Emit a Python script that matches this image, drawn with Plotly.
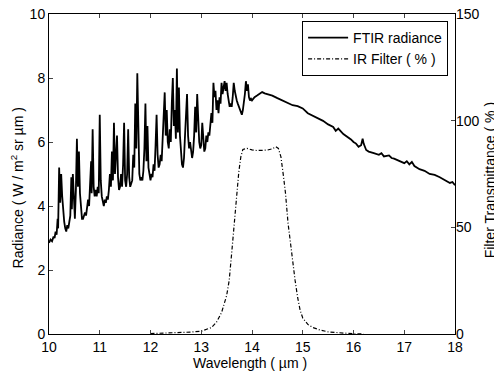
import plotly.graph_objects as go

wavelength = [
    10.00, 10.03, 10.06, 10.09, 10.11, 10.13, 10.15, 10.17, 10.18, 10.20, 10.22, 10.24, 10.26, 10.28, 10.30,
    10.32, 10.34, 10.36, 10.38, 10.40, 10.42, 10.44, 10.45, 10.47, 10.49, 10.51, 10.53, 10.55, 10.57, 10.59,
    10.61, 10.63, 10.65, 10.67, 10.69, 10.71, 10.73, 10.75, 10.77, 10.79, 10.81, 10.83, 10.84, 10.86, 10.88,
    10.90, 10.92, 10.94, 10.96, 10.98, 11.00, 11.02, 11.04, 11.06, 11.08, 11.10, 11.12, 11.14, 11.16, 11.18,
    11.20, 11.22, 11.24, 11.26, 11.28, 11.30, 11.32, 11.34, 11.36, 11.38, 11.40, 11.42, 11.44, 11.46, 11.48,
    11.50, 11.52, 11.54, 11.56, 11.58, 11.60, 11.62, 11.64, 11.66, 11.68, 11.70, 11.72, 11.74, 11.76, 11.78,
    11.80, 11.82, 11.84, 11.86, 11.88, 11.90, 11.92, 11.94, 11.96, 11.98, 12.00, 12.02, 12.04, 12.06, 12.08,
    12.10, 12.12, 12.14, 12.16, 12.18, 12.20, 12.22, 12.24, 12.26, 12.28, 12.30, 12.32, 12.34, 12.36, 12.38,
    12.40, 12.42, 12.44, 12.46, 12.48, 12.50, 12.52, 12.54, 12.56, 12.58, 12.60, 12.62, 12.64, 12.66, 12.68,
    12.70, 12.72, 12.74, 12.76, 12.78, 12.80, 12.82, 12.84, 12.86, 12.88, 12.90, 12.92, 12.94, 12.96, 12.98,
    13.00, 13.02, 13.04, 13.06, 13.08, 13.10, 13.12, 13.14, 13.16, 13.18, 13.20, 13.22, 13.24, 13.26, 13.28,
    13.30, 13.32, 13.34, 13.36, 13.38, 13.40, 13.42, 13.44, 13.46, 13.48, 13.50, 13.52, 13.54, 13.56, 13.58,
    13.60, 13.62, 13.64, 13.66, 13.68, 13.70, 13.72, 13.74, 13.76, 13.78, 13.80, 13.82, 13.84, 13.86, 13.88,
    13.90, 13.92, 13.94, 13.96, 13.98, 14.00, 14.05, 14.10, 14.15, 14.20, 14.25, 14.30, 14.40, 14.50, 14.60,
    14.70, 14.80, 14.90, 15.00, 15.10, 15.20, 15.30, 15.40, 15.50, 15.60, 15.65, 15.70, 15.80, 15.90, 15.95,
    16.00, 16.05, 16.10, 16.15, 16.18, 16.20, 16.25, 16.30, 16.40, 16.50, 16.55, 16.60, 16.70, 16.75, 16.80,
    16.90, 17.00, 17.05, 17.10, 17.15, 17.20, 17.30, 17.40, 17.50, 17.60, 17.70, 17.80, 17.90, 17.95, 18.00,
]

radiance = [
    2.85, 2.95, 2.90, 3.05, 3.00, 3.20, 3.10, 3.60, 3.30, 5.20, 4.10, 5.00, 4.30, 3.70, 3.50,
    3.30, 3.20, 3.40, 3.30, 3.50, 3.70, 4.90, 3.90, 5.00, 4.00, 3.60, 4.50, 6.10, 4.60, 5.70,
    4.40, 3.80, 3.60, 3.60, 3.70, 3.80, 3.70, 3.90, 4.20, 4.00, 4.60, 5.40, 4.40, 6.40, 4.60,
    4.30, 4.50, 4.30, 4.60, 4.40, 6.85, 4.80, 4.30, 4.10, 4.00, 4.20, 4.10, 4.30, 4.20, 4.50,
    5.00, 4.60, 5.70, 4.80, 6.60, 5.00, 5.60, 6.20, 4.90, 4.50, 4.60, 5.00, 4.60, 5.30, 6.60,
    4.80, 4.60, 5.00, 6.40, 4.90, 4.60, 4.70, 4.80, 5.60, 5.20, 7.20, 5.80, 8.15, 6.00, 5.00,
    4.80, 4.90, 4.80, 5.10, 5.80, 7.20, 5.40, 6.50, 5.20, 4.90, 4.80, 5.00, 4.90, 5.30, 5.10,
    5.90, 6.85, 5.60, 5.20, 5.30, 5.60, 5.40, 6.00, 6.50, 7.55, 6.20, 7.00, 6.00, 5.80, 6.40,
    6.00, 7.20, 8.00, 6.50, 7.00, 6.10, 8.30, 6.30, 7.70, 6.20, 5.50, 5.30, 5.20, 5.50, 6.20,
    6.80, 7.50, 6.20, 5.80, 6.00, 5.70, 5.50, 5.70, 6.20, 7.10, 6.30, 7.50, 6.40, 6.00, 5.80,
    5.90, 6.60, 5.90, 5.70, 5.80, 6.20, 6.00, 6.30, 6.20, 6.60, 6.90, 6.60, 7.85, 7.40, 7.60,
    7.00, 7.30, 6.90, 7.40, 7.20, 7.85, 7.50, 7.80, 7.90, 7.60, 7.85, 7.50, 7.30, 7.10, 7.20,
    7.10, 7.40, 7.85, 7.60, 7.40, 7.30, 7.20, 7.10, 7.00, 6.90, 6.85, 7.00, 7.20, 7.50, 7.90,
    7.60, 7.80, 7.40, 7.30, 7.35, 7.30, 7.40, 7.45, 7.52, 7.56, 7.52, 7.50, 7.45, 7.37, 7.30,
    7.22, 7.15, 7.12, 7.05, 6.90, 6.82, 6.75, 6.66, 6.55, 6.47, 6.35, 6.42, 6.25, 6.15, 6.08,
    6.00, 5.95, 5.85, 5.90, 6.10, 5.95, 5.75, 5.70, 5.65, 5.60, 5.65, 5.55, 5.58, 5.50, 5.48,
    5.42, 5.34, 5.40, 5.30, 5.38, 5.25, 5.15, 5.10, 5.00, 4.97, 4.90, 4.80, 4.72, 4.75, 4.65,
]

filter_wl = [
    12.0, 12.5, 12.8, 13.0, 13.1, 13.2, 13.3, 13.4, 13.5, 13.55, 13.6, 13.65, 13.7, 13.74, 13.78,
    13.82, 13.9, 14.0, 14.1, 14.2, 14.3, 14.4, 14.47, 14.52, 14.57, 14.62, 14.66, 14.71, 14.76, 14.8,
    14.85, 14.9, 14.95, 15.0, 15.1, 15.2, 15.35, 15.5, 15.7, 16.0, 16.2,
]
filter_pct = [
    0.2, 0.5, 0.9, 1.3, 2.0, 3.0, 5.5, 10, 18, 25, 38, 52, 64, 76, 83,
    86.5, 87, 86.3, 86, 86, 86.2, 86.8, 87.8, 87, 83, 74, 66, 52, 42, 35,
    25, 17, 11, 7.5, 4.5, 3, 1.8, 1.0, 0.5, 0.1, 0,
]

x_ticks = [10, 11, 12, 13, 14, 15, 16, 17, 18]
y_ticks = [0, 2, 4, 6, 8, 10]
y2_ticks = [0, 50, 100, 150]

x_title = "Wavelength ( µm )"
y_title = "Radiance ( W / m<sup>2</sup> sr µm )"
y2_title = "Filter Transmittance ( % )"

font = "Liberation Sans, Arial, sans-serif"

fig = go.Figure()
fig.add_trace(go.Scatter(x=wavelength, y=radiance, mode="lines", name="FTIR radiance",
                         line=dict(color="black", width=1.8)))
fig.add_trace(go.Scatter(x=filter_wl, y=filter_pct, mode="lines", name="IR Filter ( % )",
                         yaxis="y2", line=dict(color="black", width=1.2, dash="4px,2px,1px,2px")))

# page body has an 8px margin: figure is sized/offset so the plot area lands at x 49-455, y 14-334
fig.update_layout(
    width=494, height=365,
    margin=dict(l=41, r=47, t=6, b=39, autoexpand=False),
    paper_bgcolor="white", plot_bgcolor="white",
    font=dict(family=font, size=14, color="black"),
    showlegend=True,
    legend=dict(x=0.983, xanchor="right", y=0.978, yanchor="top",
                bordercolor="black", borderwidth=1, bgcolor="white",
                font=dict(size=14), tracegroupgap=0, itemwidth=40,
                traceorder="normal"),
    xaxis=dict(range=list((10, 18)), tickvals=x_ticks, ticks="inside", ticklen=4,
               showline=True, linecolor="black", linewidth=1, mirror="ticks",
               showgrid=False, zeroline=False, ticklabeloverflow="allow"),
    yaxis=dict(range=list((0, 10)), tickvals=y_ticks, ticks="inside", ticklen=4,
               showline=True, linecolor="black", linewidth=1, mirror=True,
               showgrid=False, zeroline=False, ticklabeloverflow="allow"),
    yaxis2=dict(range=list((0, 150)), tickvals=y2_ticks, ticks="inside", ticklen=4,
                overlaying="y", side="right", showline=False,
                showgrid=False, zeroline=False, ticklabeloverflow="allow"),
    annotations=[
        dict(text=x_title, xref="paper", yref="paper", x=0.495, y=-0.09,
             xanchor="center", yanchor="middle", showarrow=False, font=dict(size=14)),
        dict(text=y_title, xref="paper", yref="paper", x=-0.078, y=0.456,
             xanchor="center", yanchor="middle", showarrow=False, textangle=-90,
             font=dict(size=14)),
        dict(text=y2_title, xref="paper", yref="paper", x=1.086, y=0.48,
             xanchor="center", yanchor="middle", showarrow=False, textangle=-90,
             font=dict(size=14)),
    ],
)

fig.write_html("out.html")
